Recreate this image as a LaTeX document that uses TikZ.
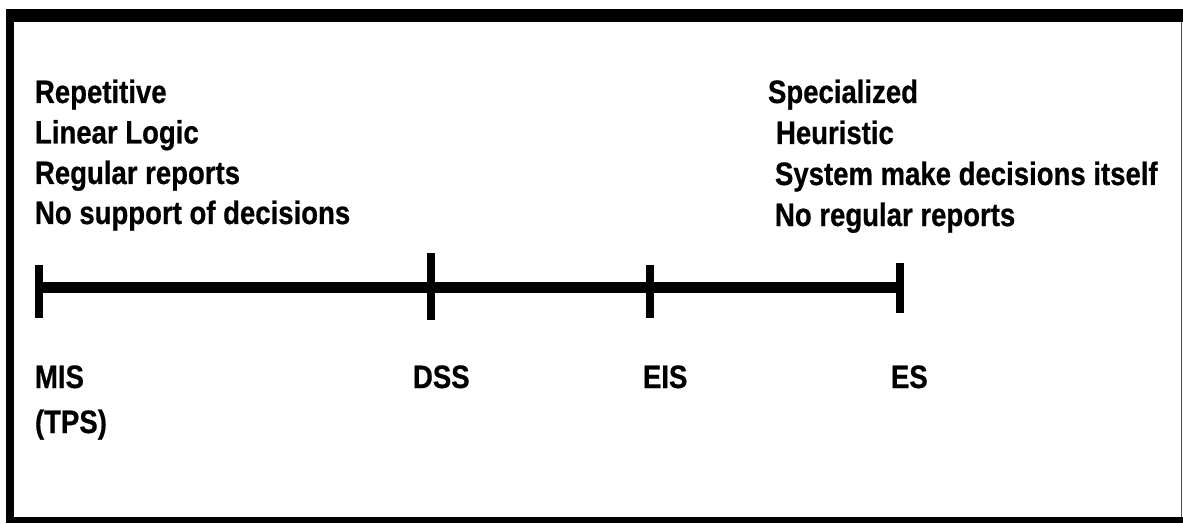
\documentclass[tikz,border=0pt]{standalone}
\usepackage{fontspec}
\setmainfont{Liberation Sans}[FakeStretch=0.85,BoldFeatures={FakeBold=0.6}]
\begin{document}
\begin{tikzpicture}[x=1pt,y=1pt,
  lbl/.style={anchor=base west,inner sep=0pt,outer sep=0pt,
    font=\fontsize{32.4}{40}\selectfont\bfseries},
  axis/.style={line width=11pt,line cap=butt},
  tick/.style={line width=8pt,line cap=butt}]
% canvas
\useasboundingbox (0,0) rectangle (1183,523);
\fill[white] (0,0) rectangle (1183,523);
% heavy frame
\fill[black] (6,501) rectangle (1183,514);
\fill[black] (6,0) rectangle (14,514);
\fill[black] (6,0) rectangle (1183,6);
\draw[black!70,line width=1.5pt] (1181.5,6) -- (1181.5,501);

% scale points
\coordinate (mis) at (39,236);
\coordinate (dss) at (431,236);
\coordinate (eis) at (650,236);
\coordinate (es)  at (900,236);
\draw[axis] (mis) -- (es);
\draw[tick] ([yshift=22pt]mis) -- ([yshift=-31pt]mis);
\draw[tick] ([yshift=34pt]dss) -- ([yshift=-33pt]dss);
\draw[tick] ([yshift=22pt]eis) -- ([yshift=-31pt]eis);
\draw[tick] ([yshift=24pt]es)  -- ([yshift=-26pt]es);

% left characteristics
\node[lbl] (l1) at (35,420) {Repetitive};
\node[lbl] (l2) at (35,379.5) {Linear Logic};
\node[lbl] (l3) at (35,339) {Regular reports};
\node[lbl] (l4) at (35,299) {No support of decisions};

% right characteristics
\node[lbl] (r1) at (768,420) {Specialized};
\node[lbl] (r2) at (776,379) {Heuristic};
\node[lbl] (r3) at (775,338) {System make decisions itself};
\node[lbl] (r4) at (775,297) {No regular reports};

% system labels
\node[lbl] (tmis) at (35,135) {MIS};
\node[lbl] (ttps) at (35,90) {(TPS)};
\node[lbl] (tdss) at (413,135) {DSS};
\node[lbl] (teis) at (643,135) {EIS};
\node[lbl] (tes)  at (891,135) {ES};
\end{tikzpicture}
\end{document}
